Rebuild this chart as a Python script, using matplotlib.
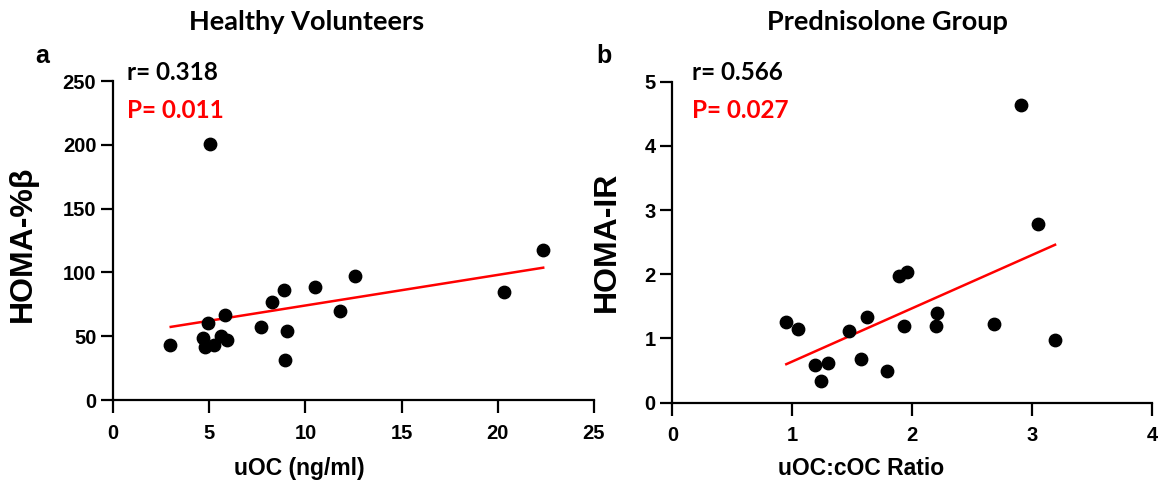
import numpy as np
import matplotlib
matplotlib.use("Agg")
import matplotlib.pyplot as plt

# panel a: healthy volunteers
hv_x = [5.03, 2.98, 4.68, 4.77, 4.94, 5.23, 5.63, 5.93, 5.80, 7.69,
        8.25, 8.89, 9.06, 8.94, 10.52, 11.80, 12.56, 20.32, 22.35]
hv_y = [201, 43, 48.7, 41.7, 60.7, 43.5, 50, 47.4, 66.4, 57.6,
        76.8, 86.5, 53.9, 31.3, 88.5, 69.5, 97, 84.4, 117.7]
hv_fit_x = [3.0, 22.36]
hv_fit_y = [57.3, 103.7]

# panel b: prednisolone group
pg_x = [2.91, 3.05, 3.19, 2.68, 0.95, 1.05, 1.19, 1.30, 1.24, 1.47,
        1.62, 1.57, 1.79, 1.89, 1.96, 1.93, 2.21, 2.20]
pg_y = [4.64, 2.78, 0.98, 1.23, 1.26, 1.15, 0.58, 0.62, 0.34, 1.11,
        1.34, 0.68, 0.50, 1.97, 2.04, 1.19, 1.40, 1.19]
pg_fit_x = [0.95, 3.19]
pg_fit_y = [0.60, 2.46]

tick_font = "Liberation Sans"
text_font = "Lato"

plt.rcParams["font.family"] = tick_font
plt.rcParams["font.weight"] = "bold"

fig = plt.figure(figsize=(11.64, 4.88), dpi=100)
ax1 = fig.add_axes([0.0971, 0.1803, 0.4132, 0.6537])
ax2 = fig.add_axes([0.5776, 0.1748, 0.4123, 0.6578])

def style(ax, xlim, ylim, xticks, yticks, xlabel, ylabel):
    ax.set_xlim(*xlim)
    ax.set_ylim(*ylim)
    ax.set_xticks(xticks)
    ax.set_yticks(yticks)
    for s in ["top", "right"]:
        ax.spines[s].set_visible(False)
    for s in ["left", "bottom"]:
        ax.spines[s].set_linewidth(1.6)
    ax.tick_params(direction="out", length=9, width=1.6, labelsize=14.5)
    ax.tick_params(axis="x", pad=8)
    ax.tick_params(axis="y", pad=3)
    ax.set_xlabel(xlabel, family=tick_font, weight="bold", fontsize=16.5)
    ax.set_ylabel(ylabel, family=tick_font, weight="bold", fontsize=23)

style(ax1, (0, 25), (0, 250), [0, 5, 10, 15, 20, 25], [0, 50, 100, 150, 200, 250],
      "uOC (ng/ml)", "HOMA-%β")
style(ax2, (0, 4), (0, 5), [0, 1, 2, 3, 4], [0, 1, 2, 3, 4, 5],
      "uOC:cOC Ratio", "HOMA-IR")

ax1.scatter(hv_x, hv_y, s=80, color="black", zorder=3, clip_on=False)
ax1.plot(hv_fit_x, hv_fit_y, color="red", lw=1.8, zorder=2)
ax2.scatter(pg_x, pg_y, s=80, color="black", zorder=3, clip_on=False)
ax2.plot(pg_fit_x, pg_fit_y, color="red", lw=1.8, zorder=2)

ax1.xaxis.set_label_coords(0.387, -0.18)
ax1.yaxis.set_label_coords(-0.156, 0.49)
ax2.xaxis.set_label_coords(0.393, -0.17)
ax2.yaxis.set_label_coords(-0.105, 0.5)

fig.text(307 / 1164, 1 - 22 / 488, "Healthy Volunteers", family=text_font, weight="bold",
         fontsize=19.5, ha="center", va="center")
fig.text(887 / 1164, 1 - 22 / 488, "Prednisolone Group", family=text_font, weight="bold",
         fontsize=19.5, ha="center", va="center")
fig.text(42 / 1164, 1 - 56 / 488, "a", family=tick_font, weight="bold", fontsize=18,
         ha="center", va="center")
fig.text(604 / 1164, 1 - 56 / 488, "b", family=tick_font, weight="bold", fontsize=18,
         ha="center", va="center")

for x0, r_txt, p_txt in [(127, "r= 0.318", "P= 0.011"), (692, "r= 0.566", "P= 0.027")]:
    fig.text(x0 / 1164, 1 - 73 / 488, r_txt, family=text_font, weight="bold",
             fontsize=17.5, ha="left", va="center", color="black")
    fig.text(x0 / 1164, 1 - 110 / 488, p_txt, family=text_font, weight="bold",
             fontsize=17.5, ha="left", va="center", color="red")

fig.savefig("out.png", dpi=100)
